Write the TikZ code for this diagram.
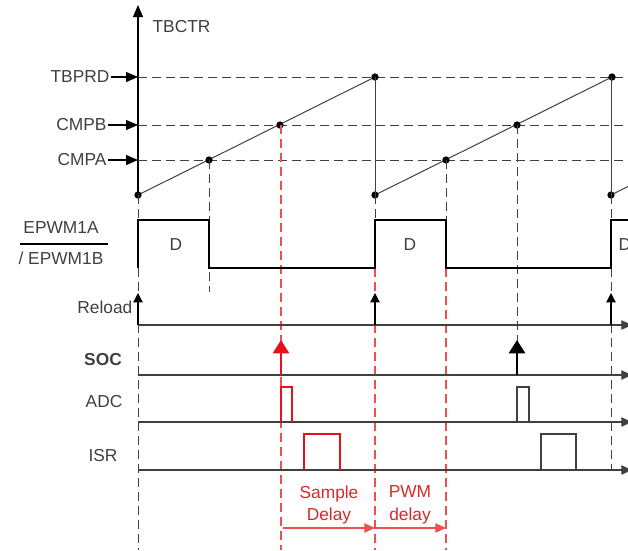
\documentclass[tikz,border=0pt]{standalone}
\usepackage{fontspec}
\setmainfont{Liberation Sans}
\usetikzlibrary{arrows.meta}
\definecolor{ink}{HTML}{404040}
\definecolor{socred}{HTML}{E8101A}
\definecolor{delayred}{HTML}{EE5050}
\definecolor{txtred}{HTML}{D42A2A}

\begin{document}
\begin{tikzpicture}[
  x=0.75pt, y=-0.75pt,
  font=\fontsize{13}{15}\selectfont, text=ink,
  lbl/.style={inner sep=1pt},
  grid/.style={dash pattern=on 6.5pt off 4pt, line width=0.75pt, ink},
  rgrid/.style={dash pattern=on 6.5pt off 4pt, line width=0.8pt, delayred},
  ramp/.style={line width=0.75pt, ink},
  dot/.style={circle, fill=black, inner sep=0pt, minimum size=5.5pt},
  pwm/.style={line width=2pt},
  trace/.style={line width=0.8pt, ink, -{Triangle[length=8pt,width=7pt]}},
  lvl/.style={line width=0.8pt, -{Triangle[length=9pt,width=7.5pt]}},
  evt/.style={line width=0.9pt, -{Triangle[length=7pt,width=7pt]}},
  socarr/.style={line width=2.2pt, -{Triangle[length=10pt,width=12pt]}},
  pulse/.style={line width=1.2pt},
  dly/.style={line width=0.8pt, delayred, -{Triangle[length=8pt,width=7pt]}},
]
\useasboundingbox (0,0) rectangle (628,550);

% counter axis and levels
\coordinate (org) at (138,195);
\coordinate (top) at (138,5);
\coordinate (yprd) at (138,77);
\coordinate (ycmpb) at (138,125);
\coordinate (ycmpa) at (138,160);
\draw[lvl, line width=0.8pt] (org) -- (top);
\node[lbl, anchor=west] (tbctr) at (151,27) {TBCTR};
\node[lbl, anchor=east] (tbprd) at (111,77) {TBPRD};
\node[lbl, anchor=east] (cmpb) at (108,125) {CMPB};
\node[lbl, anchor=east] (cmpa) at (108,160) {CMPA};
\draw[lvl] (tbprd) -- (yprd);
\draw[lvl] (cmpb) -- (ycmpb);
\draw[lvl] (cmpa) -- (ycmpa);
\foreach \y in {77,125,160}
  \draw[grid] (138,\y) -- (628,\y);

% up-count ramps
\foreach \x in {138,375,611} {
  \draw[ramp] (\x,195) -- (\x+237,77);
  \node[dot] at (\x,195) {};
  \node[dot] at (\x+237,77) {};
  \node[dot] at (\x+71,160) {};
  \node[dot] at (\x+142,125) {};
}
\draw[ramp] (375,77) -- (375,195);
\draw[ramp] (611,77) -- (611,195);

% event guides
\draw[grid] (org) -- (138,220);
\draw[grid] (138,268) -- (138,550);
\draw[grid] (209,160) -- (209,292);
\draw[grid] (375,195) -- (375,220);
\draw[grid] (446,160) -- (446,220);
\draw[grid] (611,195) -- (611,220);
\draw[grid] (611,268) -- (611,470);
\draw[grid] (517,125) -- (517,350);
\draw[rgrid] (281,125) -- (281,550);
\draw[rgrid] (375,268) -- (375,550);
\draw[rgrid] (446,268) -- (446,550);

% PWM output
\draw[pwm] (138,268) -- (138,220) -| (209,268) -| (375,220) -| (446,268)
  -| (611,220) -- (640,220);
\node (d1) at (176,245) {D};
\node (d2) at (410,245) {D};
\node (d3) at (625,245) {D};
\node[lbl] (pwma) at (61,228) {EPWM1A};
\node[lbl] (pwmb) at (61,258) {/ EPWM1B};
\draw[line width=0.8pt] (20,244) -- (108,244);

% event traces
\node[lbl, anchor=east] (reload) at (134,307) {Reload};
\node[lbl, font=\fontsize{13}{15}\selectfont\bfseries] (soc) at (103,360) {SOC};
\node[lbl] (adc) at (104,402) {ADC};
\node[lbl] (isr) at (103,456) {ISR};
\foreach \y in {325,375,422,470}
  \draw[trace] (138,\y) -- (632,\y);

\foreach \x in {138,375,611}
  \draw[evt] (\x,325) -- (\x,293);
\draw[socarr, socred] (281,375) -- (281,340);
\draw[socarr, black] (517,375) -- (517,340);

\draw[pulse, socred] (281,422) |- (292,387) -- (292,422);
\draw[pulse, socred] (304,470) |- (340,434) -- (340,470);
\draw[pulse, ink] (517,422) |- (529,387) -- (529,422);
\draw[pulse, ink] (541,470) |- (576,434) -- (576,470);

% delays
\node[text=txtred, align=center, font=\fontsize{13}{17}\selectfont] (smpl) at (329,505) {Sample\\Delay};
\node[text=txtred, align=center, font=\fontsize{13}{17}\selectfont] (pwmd) at (410,505) {PWM\\delay};
\draw[dly] (283,528) -- (375,528);
\draw[dly] (375,528) -- (446,528);
\end{tikzpicture}
\end{document}
